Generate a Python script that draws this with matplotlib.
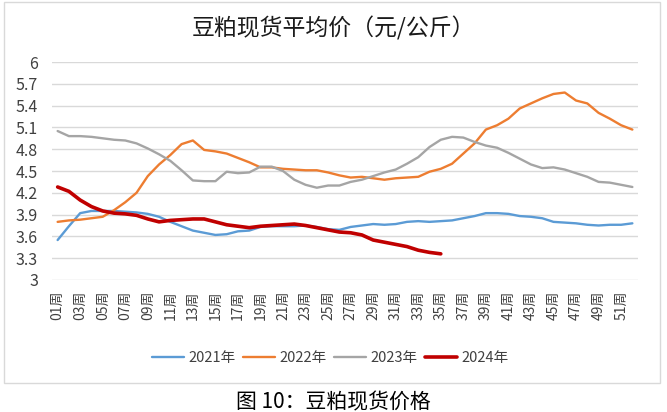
import matplotlib
matplotlib.use("Agg")
import matplotlib.pyplot as plt
from matplotlib.patches import Rectangle

plt.rcParams['font.family'] = ['Noto Sans CJK SC', 'DejaVu Sans']

weeks = list(range(1, 53))
tick_labels = [f"{w:02d}周" if w % 2 == 1 else "" for w in weeks]
yticks = [3, 3.3, 3.6, 3.9, 4.2, 4.5, 4.8, 5.1, 5.4, 5.7, 6]
ytick_labels = ["3", "3.3", "3.6", "3.9", "4.2", "4.5", "4.8", "5.1", "5.4", "5.7", "6"]

y2021 = [3.55, 3.74, 3.92, 3.95, 3.95, 3.95, 3.94, 3.93, 3.91, 3.87, 3.80, 3.74, 3.68,
         3.65, 3.62, 3.63, 3.67, 3.68, 3.73, 3.74, 3.74, 3.74, 3.75, 3.73, 3.70,
         3.69, 3.73, 3.75, 3.77, 3.76, 3.77, 3.80, 3.81, 3.80, 3.81, 3.82, 3.85, 3.88,
         3.92, 3.92, 3.91, 3.88, 3.87, 3.85, 3.80, 3.79, 3.78, 3.76, 3.75, 3.76, 3.76, 3.78]
y2022 = [3.80, 3.82, 3.83, 3.85, 3.87, 3.96, 4.07, 4.20, 4.43, 4.59, 4.72, 4.87, 4.92,
         4.79, 4.77, 4.74, 4.68, 4.62, 4.55, 4.55, 4.53, 4.52, 4.51, 4.51, 4.48,
         4.44, 4.41, 4.42, 4.40, 4.38, 4.40, 4.41, 4.42, 4.49, 4.53, 4.60, 4.74, 4.88,
         5.07, 5.13, 5.22, 5.36, 5.43, 5.50, 5.56, 5.58, 5.47, 5.43, 5.30, 5.22, 5.13, 5.07]
y2023 = [5.05, 4.98, 4.98, 4.97, 4.95, 4.93, 4.92, 4.88, 4.81, 4.73, 4.64, 4.51, 4.37,
         4.36, 4.36, 4.49, 4.47, 4.48, 4.56, 4.56, 4.50, 4.38, 4.31, 4.27, 4.30,
         4.30, 4.35, 4.38, 4.43, 4.48, 4.52, 4.60, 4.69, 4.83, 4.93, 4.97, 4.96, 4.90,
         4.85, 4.82, 4.75, 4.67, 4.59, 4.54, 4.55, 4.52, 4.47, 4.42, 4.35, 4.34, 4.31, 4.28]
y2024 = [4.28, 4.22, 4.10, 4.01, 3.95, 3.92, 3.91, 3.89, 3.84, 3.80, 3.82, 3.83, 3.84,
         3.84, 3.80, 3.76, 3.74, 3.72, 3.74, 3.75, 3.76, 3.77, 3.75, 3.72, 3.69,
         3.66, 3.65, 3.62, 3.55, 3.52, 3.49, 3.46, 3.41, 3.38, 3.36]

series = [
    ("2021年", y2021, "#5B9BD5", 1.7),
    ("2022年", y2022, "#ED7D31", 1.7),
    ("2023年", y2023, "#A5A5A5", 1.7),
    ("2024年", y2024, "#C00000", 2.6),
]

W, H = 667, 412
fig = plt.figure(figsize=(W / 100, H / 100), dpi=100)
fig.patch.set_facecolor("white")

# outer chart border
fig.add_artist(Rectangle((4 / W, 1 - 383 / H), 656 / W, 381 / H,
                         transform=fig.transFigure, fill=False,
                         edgecolor="#D9D9D9", linewidth=1.0))

ax = fig.add_axes([52 / W, 1 - 280 / H, 586 / W, 218 / H])
for name, vals, color, lw in series:
    ax.plot(weeks[:len(vals)], vals, color=color, linewidth=lw, label=name,
            solid_capstyle="round", solid_joinstyle="round")

ax.set_xlim(0.5, 52.5)
ax.set_ylim(3, 6)
ax.set_yticks(yticks)
ax.set_yticklabels(ytick_labels, fontsize=11.5, color="#404040")
ax.set_xticks(weeks)
ax.set_xticklabels(tick_labels, rotation=90, fontsize=10, color="#404040")
ax.tick_params(axis="both", length=0)
ax.tick_params(axis="y", pad=10)
ax.tick_params(axis="x", pad=8)
ax.grid(axis="y", color="#D9D9D9", linewidth=1.0)
ax.set_axisbelow(True)
for s in ax.spines.values():
    s.set_visible(False)

fig.text(333 / W, 1 - 28 / H, "豆粕现货平均价（元/公斤）", ha="center", va="center",
         fontsize=16.5, color="#1a1a1a")

fig.legend(loc="center", bbox_to_anchor=(330 / W, 1 - 358 / H), ncol=4,
           frameon=False, fontsize=10.5, handlelength=2.2, columnspacing=0.5,
           handletextpad=0.3, labelcolor="#404040")

fig.text(333 / W, 1 - 402 / H, "图 10：豆粕现货价格", ha="center", va="center",
         fontsize=15, color="#000000")

fig.savefig("out.png", dpi=100)
